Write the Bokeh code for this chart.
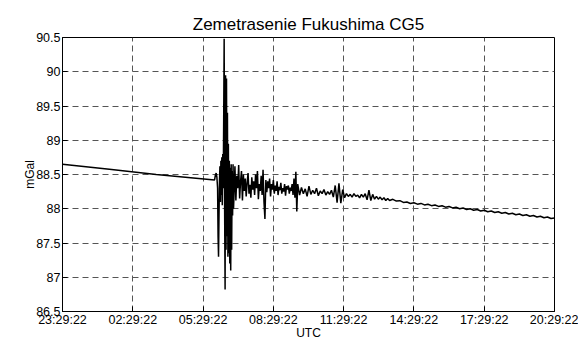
from bokeh.plotting import figure
from bokeh.models import FixedTicker, Range1d, ColumnDataSource
from bokeh.embed import file_html
from bokeh.resources import INLINE

FONT = "Liberation Sans"
title_text = "Zemetrasenie Fukushima CG5"
x_label = "UTC"
y_label = "mGal"

# x in hours after 23:29:22 UTC
x_ticks = [0, 3, 6, 9, 12, 15, 18, 21]
x_tick_labels = ["23:29:22", "02:29:22", "05:29:22", "08:29:22",
                 "11:29:22", "14:29:22", "17:29:22", "20:29:22"]
y_ticks = [86.5, 87, 87.5, 88, 88.5, 89, 89.5, 90, 90.5]
y_tick_labels = ["86.5", "87", "87.5", "88", "88.5", "89", "89.5", "90", "90.5"]

# quiet drift before the earthquake
pre_t = [0.0, 2.0, 4.0, 6.49]
pre_v = [88.65, 88.575, 88.50, 88.42]

# main shaking
quake_t = [6.50, 6.53, 6.56, 6.59, 6.62, 6.64, 6.66, 6.68, 6.70, 6.72, 6.74, 6.76,
           6.78, 6.80, 6.82, 6.84, 6.86, 6.88, 6.90, 6.92, 6.94, 6.96, 6.98, 7.00,
           7.02, 7.04, 7.06, 7.08, 7.10, 7.12, 7.14, 7.16, 7.18, 7.20, 7.22, 7.24,
           7.26, 7.28, 7.30]
quake_v = [88.44, 88.50, 88.52, 88.46, 88.30, 87.60, 87.30, 87.90, 88.40, 88.62, 88.10, 88.70,
           88.20, 88.75, 88.05, 88.80, 88.30, 89.30, 90.48, 88.00, 86.82, 89.95, 87.40, 89.90,
           87.60, 89.40, 87.30, 88.95, 87.35, 88.70, 87.20, 88.60, 87.10, 88.65, 87.40, 88.55,
           87.90, 88.65, 88.00]

# coda, sampled every 0.04 h from 7.32 h
coda_start, coda_step = 7.32, 0.04
coda_v = [88.20, 88.62, 88.12, 88.48, 88.30, 88.64, 88.15, 88.40, 88.55, 88.12,
          88.50, 88.26, 88.44, 88.18, 88.38, 88.52, 88.22, 88.35, 88.16, 88.46,
          88.28, 88.40, 88.20, 88.50, 88.30, 88.55, 88.14, 88.36, 88.26, 88.48,
          88.20, 88.57, 88.10, 87.85, 88.42, 88.24, 88.40, 88.30, 88.44, 88.18,
          88.36, 88.28, 88.42, 88.22, 88.34, 88.26, 88.40, 88.20, 88.32, 88.27,
          88.38, 88.22, 88.30, 88.25, 88.36, 88.19, 88.33, 88.28, 88.34, 88.22,
          88.31, 88.26, 88.36, 88.20, 88.44, 88.16, 88.54, 87.96]

# late coda, sampled every 0.08 h from 10.04 h
late_start, late_step = 10.04, 0.08
late_v = [88.36, 88.20, 88.31, 88.22, 88.29, 88.18, 88.33, 88.21, 88.27, 88.22,
          88.30, 88.19, 88.26, 88.22, 88.28, 88.20, 88.25, 88.21, 88.27, 88.17,
          88.34, 88.09, 88.37, 88.08, 88.28, 88.16, 88.22, 88.18, 88.21, 88.17,
          88.22, 88.18, 88.20, 88.16, 88.21, 88.17, 88.22, 88.13, 88.27, 88.12,
          88.21, 88.14, 88.18, 88.14, 88.17, 88.13, 88.16, 88.12, 88.15, 88.12]

# drift afterwards, sampled every 0.15 h from 14.10 h
tail_start, tail_step = 14.10, 0.15
tail_v = [88.138, 88.112, 88.118, 88.092, 88.098, 88.077, 88.088, 88.067, 88.078, 88.056,
          88.066, 88.045, 88.055, 88.034, 88.044, 88.023, 88.033, 88.012, 88.022, 88.001,
          88.011, 87.990, 88.000, 87.979, 87.989, 87.968, 87.978, 87.957, 87.967, 87.946,
          87.956, 87.935, 87.945, 87.924, 87.934, 87.913, 87.923, 87.902, 87.912, 87.891,
          87.901, 87.880, 87.890, 87.869, 87.879, 87.858, 87.866]

coda_t = [coda_start + coda_step * i for i in range(len(coda_v))]
late_t = [late_start + late_step * i for i in range(len(late_v))]
tail_t = [tail_start + tail_step * i for i in range(len(tail_v))]

t_all = pre_t + quake_t + coda_t + late_t + tail_t
v_all = pre_v + quake_v + coda_v + late_v + tail_v
source = ColumnDataSource(dict(t=t_all, v=v_all))

p = figure(width=578, height=342, output_backend="svg", toolbar_location=None,
           x_range=Range1d(0, 21), y_range=Range1d(86.5, 90.5),
           min_border_left=62, min_border_right=24, min_border_top=37, min_border_bottom=26,
           title=title_text)
p.background_fill_color = "white"
p.border_fill_color = "white"
p.outline_line_color = "black"
p.outline_line_alpha = 1.0
p.outline_line_width = 1

p.title.text_font = FONT
p.title.text_font_size = "17px"
p.title.text_font_style = "normal"
p.title.align = "center"
p.title.text_color = "black"
p.title.standoff = 7

p.line("t", "v", source=source, color="black", line_width=1.5)

p.xaxis.ticker = FixedTicker(ticks=x_ticks)
p.xaxis.major_label_overrides = {k: s for k, s in zip(x_ticks, x_tick_labels)}
p.yaxis.ticker = FixedTicker(ticks=y_ticks)
p.yaxis.major_label_overrides = {k: s for k, s in zip(y_ticks, y_tick_labels)}

for ax in (p.xaxis[0], p.yaxis[0]):
    ax.major_label_text_font = FONT
    ax.major_label_text_font_size = "12.5px"
    ax.major_label_text_color = "black"
    ax.axis_label_text_font = FONT
    ax.axis_label_text_font_size = "12px"
    ax.axis_label_text_font_style = "normal"
    ax.axis_label_text_color = "black"
    ax.major_tick_in = 5
    ax.major_tick_out = 0
    ax.minor_tick_line_color = None
    ax.axis_line_color = "black"
    ax.major_tick_line_color = "black"

p.xaxis.axis_label = x_label
p.xaxis.major_label_standoff = 1
p.xaxis.axis_label_standoff = -4
p.yaxis.axis_label = y_label
p.yaxis.major_label_standoff = 2
p.yaxis.axis_label_standoff = -4

for g in (p.xgrid[0], p.ygrid[0]):
    g.grid_line_color = "#555555"
    g.grid_line_dash = "6 4"
    g.grid_line_width = 1
    g.grid_line_alpha = 1.0

open("out.html", "w").write(file_html(p, INLINE))
